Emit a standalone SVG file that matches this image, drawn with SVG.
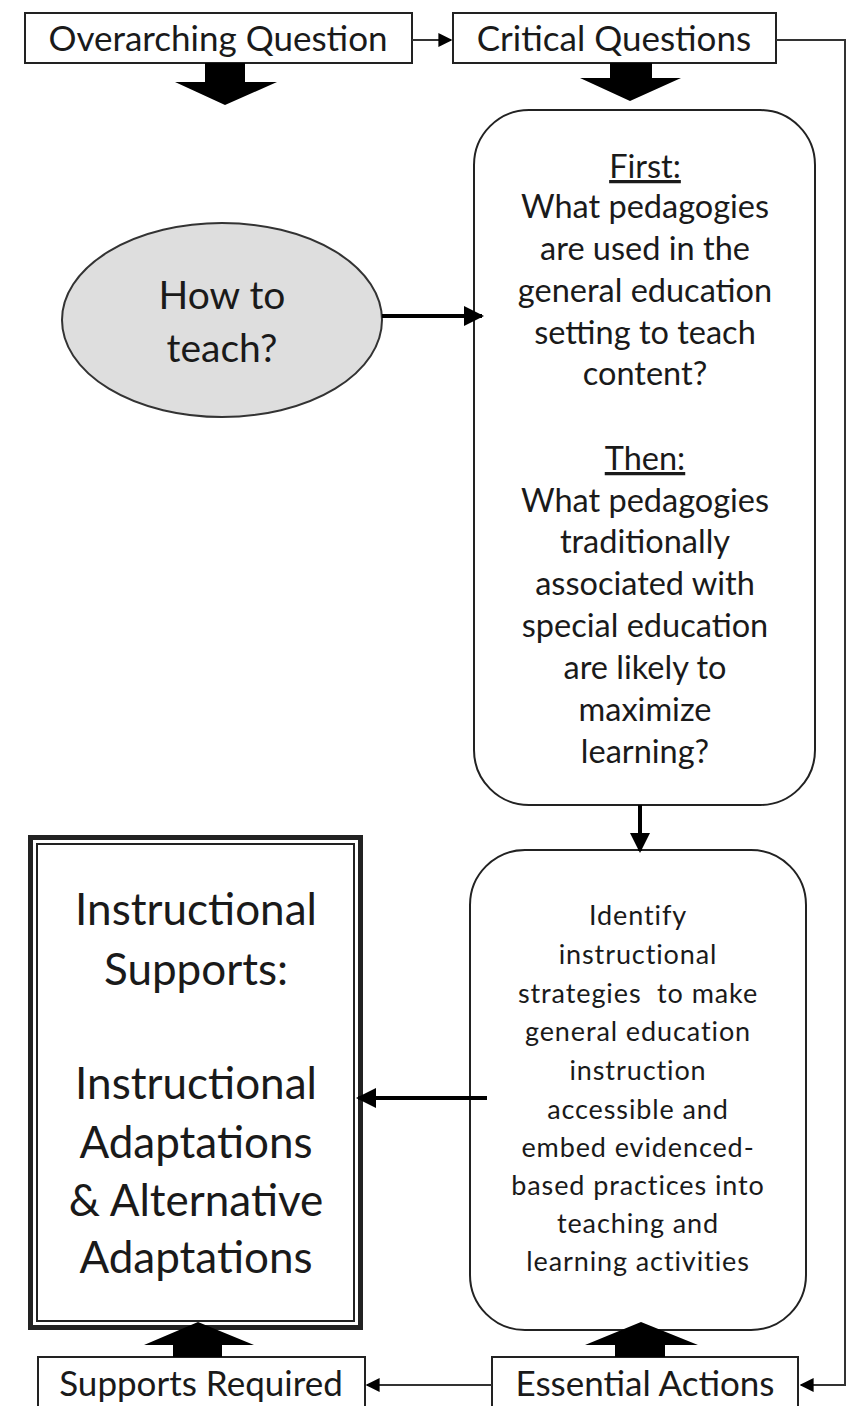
<svg xmlns="http://www.w3.org/2000/svg" width="851" height="1406" viewBox="0 0 851 1406">
<defs>
<style>
text{font-family:Lato,"Open Sans","Liberation Sans",sans-serif;fill:#1a1a1a;text-anchor:middle}
.box{fill:#fff;stroke:#222;stroke-width:2}
.lbl{font-size:35px}
.q{font-size:32.5px}
.s{font-size:27px;letter-spacing:0.9px}
.big{font-size:44px}
.con{fill:none;stroke:#333;stroke-width:2}
.thick{fill:none;stroke:#000;stroke-width:4}
.blk{fill:#000}
</style>
<marker id="ah" viewBox="0 0 10 10" refX="9" refY="5" markerWidth="5" markerHeight="5" orient="auto"><path d="M0,0L10,5L0,10z" fill="#000"/></marker>
<marker id="ahs" viewBox="0 0 10 10" refX="9" refY="5" markerWidth="7" markerHeight="7" orient="auto"><path d="M0,0L10,5L0,10z" fill="#000"/></marker>
</defs>
<g id="overarching"><rect class="box" x="25" y="13" width="387" height="50"/><text class="lbl" x="218" y="51">Overarching Question</text></g>
<g id="critical"><rect class="box" x="453" y="13" width="323" height="50"/><text class="lbl" x="614" y="51">Critical Questions</text></g>
<g id="how"><ellipse cx="222" cy="320" rx="160" ry="97" fill="#dedede" stroke="#333" stroke-width="2"/><text x="222" y="309" style="font-size:39px">How to</text><text x="222" y="362" style="font-size:39px">teach?</text></g>
<g id="questions"><rect class="box" x="474" y="110" width="341" height="695" rx="55"/>
<text class="q" x="645" y="178" text-decoration="underline">First:</text>
<text class="q" x="645" y="218">What pedagogies</text>
<text class="q" x="645" y="260">are used in the</text>
<text class="q" x="645" y="302">general education</text>
<text class="q" x="645" y="344">setting to teach</text>
<text class="q" x="645" y="385">content?</text>
<text class="q" x="645" y="470" text-decoration="underline">Then:</text>
<text class="q" x="645" y="512">What pedagogies</text>
<text class="q" x="645" y="553">traditionally</text>
<text class="q" x="645" y="595">associated with</text>
<text class="q" x="645" y="637">special education</text>
<text class="q" x="645" y="679">are likely to</text>
<text class="q" x="645" y="721">maximize</text>
<text class="q" x="645" y="763">learning?</text>
</g>
<g id="strategies"><rect class="box" x="470" y="850" width="336" height="480" rx="55"/>
<text class="s" x="638" y="925">Identify</text>
<text class="s" x="638" y="964">instructional</text>
<text class="s" x="638" y="1003" xml:space="preserve">strategies  to make</text>
<text class="s" x="638" y="1041">general education</text>
<text class="s" x="638" y="1080">instruction</text>
<text class="s" x="638" y="1119">accessible and</text>
<text class="s" x="638" y="1157">embed evidenced-</text>
<text class="s" x="638" y="1195">based practices into</text>
<text class="s" x="638" y="1233">teaching and</text>
<text class="s" x="638" y="1271">learning activities</text>
</g>
<g id="supports"><rect x="30.5" y="837.5" width="330" height="490" fill="#fff" stroke="#222" stroke-width="5"/><rect x="37" y="844" width="317" height="477" fill="none" stroke="#222" stroke-width="2"/>
<text class="big" x="196" y="925">Instructional</text>
<text class="big" x="196" y="985">Supports:</text>
<text class="big" x="196" y="1099">Instructional</text>
<text class="big" x="196" y="1158">Adaptations</text>
<text class="big" x="196" y="1216">&amp; Alternative</text>
<text class="big" x="196" y="1273">Adaptations</text>
</g>
<g id="required"><rect class="box" x="38" y="1357" width="327" height="60"/><text class="lbl" x="201" y="1396">Supports Required</text></g>
<g id="essential"><rect class="box" x="492" y="1357" width="306" height="60"/><text class="lbl" x="645" y="1396">Essential Actions</text></g>
<g id="connectors">
<line class="con" x1="412" y1="40" x2="451" y2="40" marker-end="url(#ahs)"/>
<polyline class="con" points="776,40 845,40 845,1385 801,1385" marker-end="url(#ahs)"/>
<line class="con" x1="492" y1="1385" x2="367" y2="1385" marker-end="url(#ahs)"/>
<line class="thick" x1="382" y1="316" x2="482" y2="316" marker-end="url(#ah)"/>
<line class="thick" x1="640" y1="805" x2="640" y2="851" marker-end="url(#ah)"/>
<line class="thick" x1="487" y1="1098" x2="358" y2="1098" marker-end="url(#ah)"/>
<polygon class="blk" points="205,63 245,63 245,82 277,82 225,105 175,82 205,82"/>
<polygon class="blk" points="610,63 652,63 652,78 681,78 630,101 580,78 610,78"/>
<polygon class="blk" points="173,1357 222,1357 222,1345 254,1345 198,1322 144,1345 173,1345"/>
<polygon class="blk" points="615,1357 665,1357 665,1345 698,1345 641,1322 585,1345 615,1345"/>
</g>
</svg>
